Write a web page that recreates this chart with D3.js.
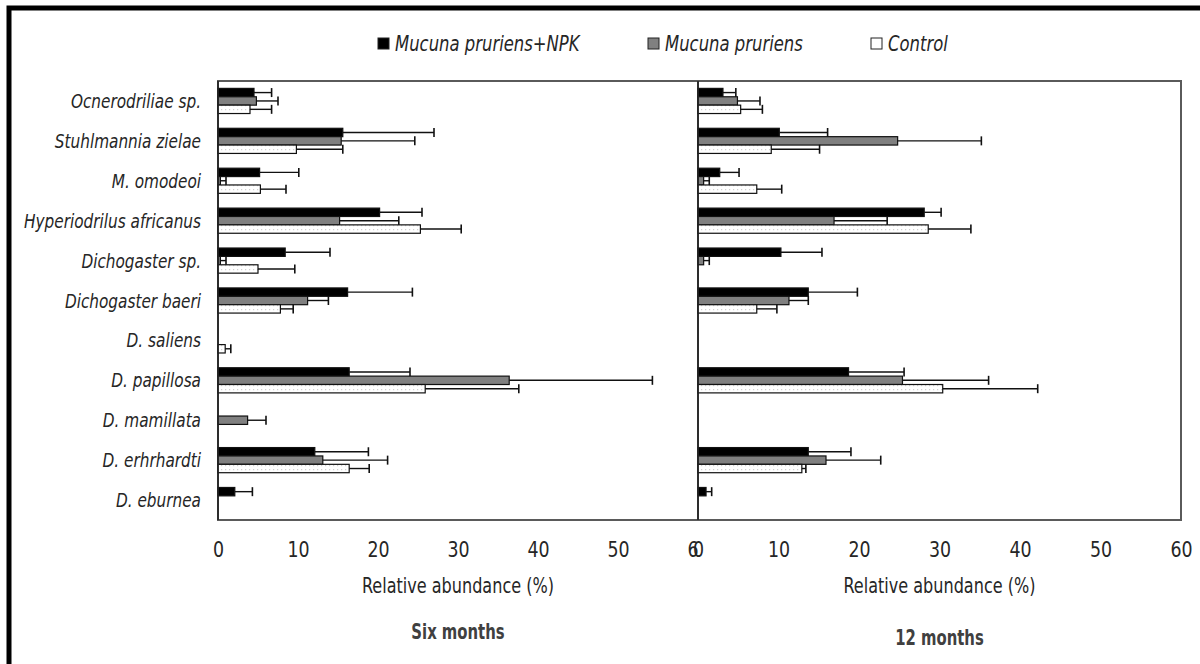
<!DOCTYPE html>
<html>
<head>
<meta charset="utf-8">
<script src="https://cdn.jsdelivr.net/npm/d3@7"></script>
<style>
  body { margin: 0; background: #fff; }
  svg text { font-family: "Liberation Sans Narrow", "DejaVu Sans Condensed", sans-serif; fill: #262626; }
</style>
</head>
<body>
<div id="chart"></div>
<script>
// species, top to bottom
var species = ["Ocnerodriliae sp.", "Stuhlmannia zielae", "M. omodeoi", "Hyperiodrilus africanus",
  "Dichogaster sp.", "Dichogaster baeri", "D. saliens", "D. papillosa", "D. mamillata",
  "D. erhrhardti", "D. eburnea"];
var treatments = ["Mucuna pruriens+NPK", "Mucuna pruriens", "Control"];
var xTicks = [0, 10, 20, 30, 40, 50, 60];

// six months
var sixNPK     = [4.5, 15.6, 5.2, 20.2, 8.4, 16.2, 0, 16.4, 0, 12.1, 2.1];
var sixNPKErr  = [2.2, 11.4, 4.9, 5.3, 5.6, 8.1, 0, 7.6, 0, 6.7, 2.2];
var sixMuc     = [4.8, 15.4, 0.3, 15.2, 0.3, 11.2, 0, 36.4, 3.7, 13.1, 0];
var sixMucErr  = [2.7, 9.2, 0.7, 7.4, 0.7, 2.6, 0, 17.9, 2.3, 8.1, 0];
var sixCtrl    = [4.0, 9.8, 5.3, 25.3, 5.0, 7.8, 0.9, 25.9, 0, 16.4, 0];
var sixCtrlErr = [2.7, 5.8, 3.2, 5.1, 4.6, 1.6, 0.7, 11.7, 0, 2.5, 0];

// 12 months
var twelveNPK     = [3.1, 10.1, 2.7, 28.1, 10.3, 13.7, 0, 18.7, 0, 13.7, 1.0];
var twelveNPKErr  = [1.6, 6.0, 2.4, 2.1, 5.1, 6.1, 0, 6.9, 0, 5.3, 0.7];
var twelveMuc     = [4.9, 24.8, 0.7, 16.9, 0.7, 11.3, 0, 25.4, 0, 15.9, 0];
var twelveMucErr  = [2.8, 10.4, 0.7, 6.6, 0.7, 2.4, 0, 10.7, 0, 6.8, 0];
var twelveCtrl    = [5.3, 9.1, 7.3, 28.6, 0, 7.3, 0, 30.4, 0, 12.9, 0];
var twelveCtrlErr = [2.7, 6.0, 3.1, 5.3, 0, 2.5, 0, 11.8, 0, 0.5, 0];

var width = 1200, height = 664;
var plotTop = 81, plotBottom = 520;

var svg = d3.select("#chart").append("svg")
  .attr("width", width)
  .attr("height", height);

// the fallback font is wider than the original narrow face, squeeze it a bit
function squeeze(sel, f) {
  sel.each(function() {
    var w = this.getComputedTextLength();
    d3.select(this).attr("textLength", w * f).attr("lengthAdjust", "spacingAndGlyphs");
  });
}

// dotted texture for the control bars
var pat = svg.append("defs").append("pattern")
  .attr("id", "dots")
  .attr("width", 4).attr("height", 4)
  .attr("patternUnits", "userSpaceOnUse");
pat.append("rect").attr("width", 4).attr("height", 4).attr("fill", "#fff");
pat.append("rect").attr("x", 1).attr("y", 1).attr("width", 1.2).attr("height", 1.2).attr("fill", "#d0d0d0");

var fills = ["#000", "#808080", "url(#dots)"];

// outer frame (left and top only)
svg.append("path")
  .attr("d", "M9,664 V8 H1200")
  .attr("fill", "none")
  .attr("stroke", "#000")
  .attr("stroke-width", 5);

var y = d3.scaleBand()
  .domain(species)
  .range([plotTop, plotBottom])
  .paddingInner(0.37)
  .paddingOuter(0.185);

var ySub = d3.scaleBand()
  .domain(treatments)
  .range([0, y.bandwidth()]);

function drawPanel(x0, x1, series, errs, title, titleY, cover) {
  var g = svg.append("g");

  if (cover) {
    g.append("rect")
      .attr("x", x0).attr("y", 75)
      .attr("width", width - x0 - 2).attr("height", 500)
      .attr("fill", "#fff");
  }

  var x = d3.scaleLinear().domain([0, 60]).range([x0, x1]);

  // plot frame
  g.append("rect")
    .attr("x", x0).attr("y", plotTop)
    .attr("width", x1 - x0).attr("height", plotBottom - plotTop)
    .attr("fill", "none")
    .attr("stroke", "#5a5a5a")
    .attr("stroke-width", 2);

  treatments.forEach(function(t, k) {
    var rows = species.map(function(s, i) {
      return { sp: s, v: series[k][i], e: errs[k][i] };
    });
    var cy = function(d) { return y(d.sp) + ySub(t) + ySub.bandwidth() / 2; };

    g.selectAll(".bar" + k)
      .data(rows.filter(function(d) { return d.v > 0; }))
      .enter().append("rect")
      .attr("x", x(0))
      .attr("y", function(d) { return y(d.sp) + ySub(t); })
      .attr("width", function(d) { return x(d.v) - x(0); })
      .attr("height", ySub.bandwidth())
      .attr("fill", fills[k])
      .attr("stroke", "#111")
      .attr("stroke-width", 1.2);

    var eb = rows.filter(function(d) { return d.e > 0; });
    g.selectAll(".err" + k)
      .data(eb)
      .enter().append("line")
      .attr("x1", function(d) { return x(d.v); })
      .attr("x2", function(d) { return x(d.v + d.e); })
      .attr("y1", cy)
      .attr("y2", cy)
      .attr("stroke", "#111")
      .attr("stroke-width", 1.4);
    g.selectAll(".cap" + k)
      .data(eb)
      .enter().append("line")
      .attr("x1", function(d) { return x(d.v + d.e); })
      .attr("x2", function(d) { return x(d.v + d.e); })
      .attr("y1", function(d) { return cy(d) - 4.5; })
      .attr("y2", function(d) { return cy(d) + 4.5; })
      .attr("stroke", "#111")
      .attr("stroke-width", 1.6);
  });

  // value axis line
  g.append("line")
    .attr("x1", x0).attr("x2", x0)
    .attr("y1", plotTop).attr("y2", plotBottom)
    .attr("stroke", "#222")
    .attr("stroke-width", 1.6);

  var axis = d3.axisBottom(x).tickValues(xTicks).tickSize(0).tickPadding(0);
  var ax = g.append("g")
    .attr("transform", "translate(0," + 541 + ")")
    .call(axis);
  ax.select(".domain").remove();
  ax.selectAll("text")
    .attr("font-family", null)
    .attr("font-size", null)
    .style("font-size", "21px")
    .style("fill", "#262626")
    .attr("dy", "0.75em");
  squeeze(ax.selectAll("text"), 0.92);

  var at = g.append("text")
    .attr("x", (x0 + x1) / 2)
    .attr("y", 593)
    .attr("text-anchor", "middle")
    .style("font-size", "21px")
    .text("Relative abundance (%)");
  squeeze(at, 0.85);

  var tt = g.append("text")
    .attr("x", (x0 + x1) / 2)
    .attr("y", titleY)
    .attr("text-anchor", "middle")
    .style("font-size", "22px")
    .style("font-weight", "bold")
    .style("fill", "#404040")
    .text(title);
  squeeze(tt, 0.75);
}

drawPanel(218, 698, [sixNPK, sixMuc, sixCtrl], [sixNPKErr, sixMucErr, sixCtrlErr], "Six months", 639, false);
drawPanel(698, 1181, [twelveNPK, twelveMuc, twelveCtrl], [twelveNPKErr, twelveMucErr, twelveCtrlErr], "12 months", 645, true);

// species labels
var labels = svg.append("g").selectAll("text")
  .data(species)
  .enter().append("text")
  .attr("x", 201)
  .attr("y", function(d) { return y(d) + y.bandwidth() / 2; })
  .attr("dy", "0.35em")
  .attr("text-anchor", "end")
  .style("font-size", "20px")
  .style("font-style", "italic")
  .text(function(d) { return d; });
squeeze(labels, 0.85);

// legend
var legendX = [378, 648, 871];
var lg = svg.append("g");
treatments.forEach(function(t, k) {
  lg.append("rect")
    .attr("x", legendX[k]).attr("y", 38)
    .attr("width", 11).attr("height", 11)
    .attr("fill", k === 2 ? "#fff" : fills[k])
    .attr("stroke", "#222")
    .attr("stroke-width", 1);
  var lt = lg.append("text")
    .attr("x", legendX[k] + 17)
    .attr("y", 51)
    .style("font-size", "21px")
    .style("font-style", "italic")
    .text(t);
  squeeze(lt, 0.87);
});
</script>
</body>
</html>
